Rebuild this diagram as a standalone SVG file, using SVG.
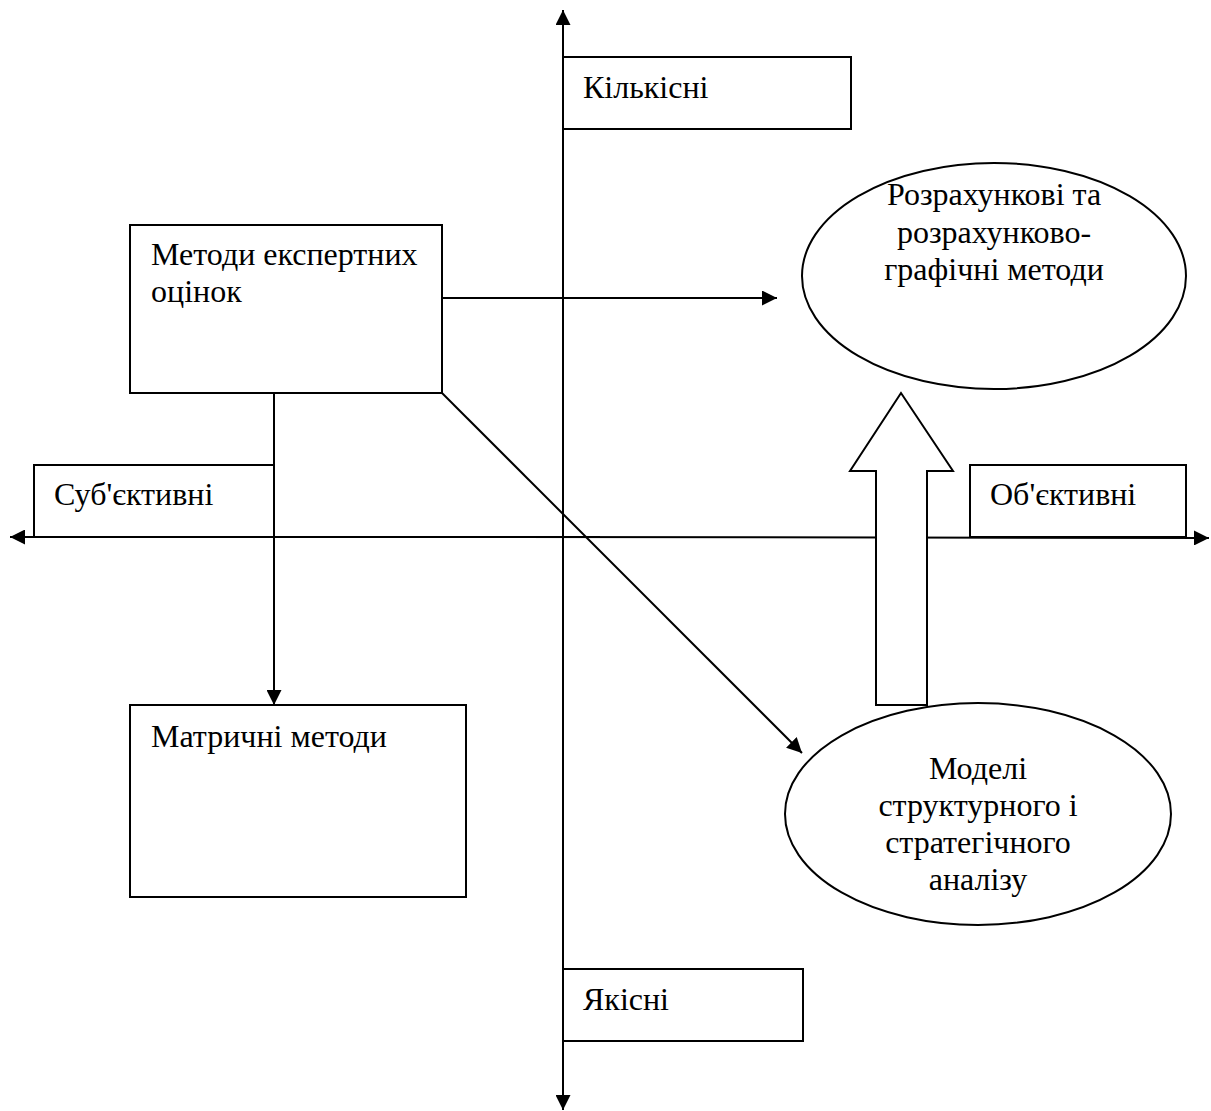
<svg xmlns="http://www.w3.org/2000/svg" width="1211" height="1111" viewBox="0 0 1211 1111">
<style>
.s{fill:none;stroke:#000;stroke-width:2}
.n{fill:#fff;stroke:#000;stroke-width:2}
.t{font-family:"Liberation Serif","Times New Roman",serif;font-size:32px;fill:#000}
.c{text-anchor:middle}
</style>
<defs>
<marker id="ah" viewBox="0 0 10 10" refX="10" refY="5" markerWidth="15" markerHeight="15" markerUnits="userSpaceOnUse" orient="auto">
<path d="M0,0 L10,5 L0,10 z" fill="#000"/>
</marker>
</defs>
<rect width="1211" height="1111" fill="#fff"/>
<g id="axes">
<line class="s" x1="563" y1="1100" x2="563" y2="10" marker-end="url(#ah)"/>
<line class="s" x1="563" y1="57" x2="563" y2="1110" marker-end="url(#ah)"/>
<line class="s" x1="600" y1="537" x2="10" y2="537" marker-end="url(#ah)"/>
<line class="s" x1="500" y1="537" x2="1209" y2="538" marker-end="url(#ah)"/>
</g>
<g id="n-kilkisni"><rect class="n" x="563" y="57" width="288" height="72"/><text class="t" x="583" y="98">Кількісні</text></g>
<g id="n-yakisni"><rect class="n" x="563" y="969" width="240" height="72"/><text class="t" x="583" y="1010">Якісні</text></g>
<g id="n-subj"><rect class="n" x="34" y="465" width="240" height="72"/><text class="t" x="54" y="505">Суб'єктивні</text></g>
<g id="n-obj"><rect class="n" x="970" y="465" width="216" height="72"/><text class="t" x="990" y="505">Об'єктивні</text></g>
<g id="n-expert"><rect class="n" x="130" y="225" width="312" height="168"/><text class="t" x="151" y="265">Методи експертних</text><text class="t" x="151" y="302">оцінок</text></g>
<g id="n-matrix"><rect class="n" x="130" y="705" width="336" height="192"/><text class="t" x="151" y="747">Матричні методи</text></g>
<g id="n-calc"><ellipse class="n" cx="994" cy="276" rx="192" ry="113"/><text class="t c" x="994" y="205">Розрахункові та</text><text class="t c" x="994" y="243">розрахунково-</text><text class="t c" x="994" y="280">графічні методи</text></g>
<g id="n-models"><ellipse class="n" cx="978" cy="814" rx="193" ry="111"/><text class="t c" x="978" y="779">Моделі</text><text class="t c" x="978" y="816">структурного і</text><text class="t c" x="978" y="853">стратегічного</text><text class="t c" x="978" y="890">аналізу</text></g>
<g id="connectors">
<line class="s" x1="442" y1="298" x2="777" y2="298" marker-end="url(#ah)"/>
<line class="s" x1="274" y1="393" x2="274" y2="705" marker-end="url(#ah)"/>
<line class="s" x1="442" y1="393" x2="802" y2="753" marker-end="url(#ah)"/>
<path class="n" d="M876,705 L876,471 L850,471 L901,393 L953,471 L927,471 L927,705 Z"/>
</g>
</svg>
